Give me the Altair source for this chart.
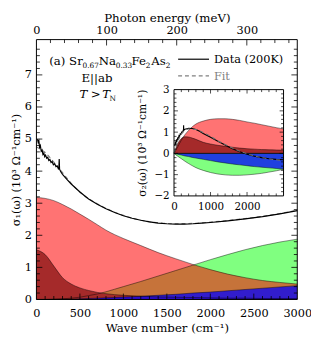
import altair as alt
import pandas as pd

SERIF = "DejaVu Serif"

# ---------------- main panel: sigma_1 (10^3 Ohm^-1 cm^-1) ----------------
w_comp = [0, 100, 200, 300, 400, 500, 600, 700, 800, 900, 1000, 1200, 1400,
          1600, 1800, 2000, 2200, 2400, 2600, 2800, 3000]
s1_drude_narrow = [1.55, 1.40, 1.04, 0.68, 0.48, 0.36, 0.28, 0.22, 0.18, 0.15, 0.13,
                   0.10, 0.08, 0.07, 0.06, 0.05, 0.04, 0.04, 0.03, 0.03, 0.03]
s1_drude_broad = [3.18, 3.15, 3.08, 2.96, 2.82, 2.66, 2.50, 2.33, 2.16, 2.02, 1.90,
                  1.68, 1.46, 1.27, 1.09, 0.93, 0.79, 0.68, 0.59, 0.53, 0.48]
s1_green = [0.0, 0.0, 0.01, 0.02, 0.04, 0.07, 0.12, 0.17, 0.24, 0.32, 0.40,
            0.56, 0.73, 0.90, 1.07, 1.24, 1.40, 1.55, 1.68, 1.79, 1.88]
s1_blue = [0.0, 0.0, 0.0, 0.01, 0.01, 0.02, 0.03, 0.04, 0.05, 0.06, 0.075,
           0.10, 0.13, 0.16, 0.20, 0.23, 0.27, 0.31, 0.35, 0.39, 0.43]

w_data = [12, 20, 28, 36, 45, 55, 65, 75, 85, 95, 105, 118, 130, 142, 155, 168, 180,
          195, 210, 225, 240, 252, 258, 262, 266, 280, 300, 350, 400, 500, 600, 700,
          800, 900, 1000, 1100, 1200, 1300, 1400, 1500, 1600, 1700, 1800, 1900, 2000,
          2200, 2400, 2600, 2800, 3000]
s1_data = [5.00, 4.90, 4.95, 4.75, 4.80, 4.62, 4.66, 4.52, 4.56, 4.45, 4.50, 4.40,
           4.43, 4.33, 4.36, 4.27, 4.30, 4.20, 4.23, 4.14, 4.16, 4.07, 4.10, 4.38,
           4.06, 3.98, 3.90, 3.74, 3.60, 3.35, 3.13, 2.97, 2.83, 2.71, 2.61, 2.53,
           2.47, 2.42, 2.38, 2.36, 2.35, 2.35, 2.36, 2.38, 2.40, 2.45, 2.51, 2.58,
           2.67, 2.77]
w_fit = [0, 100, 200, 300, 400, 500, 600, 700, 800, 900, 1000, 1200, 1400, 1600,
         1800, 2000, 2200, 2400, 2600, 2800, 3000]
s1_fit = [4.75, 4.58, 4.28, 3.95, 3.62, 3.35, 3.14, 2.98, 2.84, 2.72, 2.62, 2.47,
          2.39, 2.36, 2.37, 2.41, 2.46, 2.52, 2.59, 2.68, 2.78]

# ---------------- inset: sigma_2 ----------------
w_inset = [0, 100, 200, 300, 400, 500, 600, 800, 1000, 1200, 1400, 1600, 1800,
           2000, 2200, 2400, 2600, 2800, 3000]
s2_drude_broad = [0.0, 0.30, 0.62, 0.88, 1.08, 1.25, 1.38, 1.52, 1.60, 1.63, 1.63,
                  1.60, 1.55, 1.48, 1.42, 1.35, 1.28, 1.21, 1.15]
s2_drude_narrow = [0.0, 0.45, 0.70, 0.78, 0.77, 0.72, 0.66, 0.52, 0.44, 0.38, 0.33,
                   0.29, 0.25, 0.22, 0.20, 0.18, 0.17, 0.16, 0.15]
s2_green = [0.0, -0.13, -0.25, -0.37, -0.48, -0.58, -0.67, -0.80, -0.90, -0.97,
            -1.01, -1.03, -1.03, -1.01, -0.98, -0.94, -0.88, -0.82, -0.75]
s2_blue = [0.0, -0.04, -0.08, -0.12, -0.15, -0.19, -0.22, -0.28, -0.34, -0.40,
           -0.45, -0.50, -0.54, -0.58, -0.62, -0.65, -0.68, -0.71, -0.74]

w2_data = [20, 35, 50, 65, 80, 100, 115, 135, 150, 170, 190, 210, 230, 250, 258,
           263, 268, 300, 400, 500, 600, 700, 800, 1000, 1200, 1400, 1600, 1800,
           2000, 2200, 2400, 2600, 2800, 3000]
s2_data = [0.35, 0.50, 0.45, 0.62, 0.58, 0.72, 0.68, 0.82, 0.78, 0.92, 0.90, 1.00,
           0.98, 1.08, 1.05, 1.32, 1.08, 1.14, 1.18, 1.17, 1.12, 1.04, 0.94, 0.76,
           0.57, 0.39, 0.22, 0.08, -0.04, -0.13, -0.20, -0.25, -0.28, -0.30]
w2_fit = [0, 100, 200, 300, 400, 600, 800, 1000, 1200, 1400, 1600, 1800, 2000,
          2200, 2400, 2600, 2800, 3000]
s2_fit = [0.0, 0.55, 0.90, 1.08, 1.15, 1.12, 0.98, 0.80, 0.60, 0.42, 0.25, 0.10,
          -0.02, -0.12, -0.20, -0.26, -0.30, -0.33]

# ---------------- tick labels / tick positions ----------------
x_labels = [0, 500, 1000, 1500, 2000, 2500, 3000]
y_labels = [0, 1, 2, 3, 4, 5, 6, 7]
mev_labels = [0, 100, 200, 300]
inset_x_labels = [0, 1000, 2000]
inset_y_labels = [-2, -1, 0, 1, 2, 3]

x_major = [500, 1000, 1500, 2000, 2500]
x_minor = [v for v in range(100, 3000, 100) if v % 500]
y_major = [1, 2, 3, 4, 5, 6, 7]
y_minor = [round(i * 0.2, 1) for i in range(1, 41) if i % 5]
mev_major = [100, 200, 300]
mev_minor = [v for v in range(20, 372, 20) if v % 100]
ix_major = [1000, 2000]
ix_minor = [v for v in range(200, 3000, 200) if v % 1000]
iy_major = [-1, 0, 1, 2]
iy_minor = [round(-2 + i * 0.2, 1) for i in range(1, 25) if i % 5]

W, H = 266, 265
CM_PER_MEV = 8.0655

# ---------------- main panel ----------------
xs = alt.Scale(domain=[0, 3000], nice=False)
ys = alt.Scale(domain=[0, 8.1], nice=False)
xax = alt.Axis(values=x_labels, ticks=False, tickSize=0, domain=False, grid=False,
               labelPadding=8, labelFontSize=11.5, format="d", labelFlush=False,
               labelOverlap=False,
               title="Wave number (cm\u207b\u00b9)", titleFontSize=12, titlePadding=4)
yax = alt.Axis(values=y_labels, ticks=False, tickSize=0, domain=False, grid=False,
               labelPadding=5, labelFontSize=11.5, format="d", labelFlush=False,
               title="\u03c3\u2081(\u03c9) (10\u00b3 \u03a9\u207b\u00b9cm\u207b\u00b9)",
               titleFontSize=11.5, titlePadding=3)

comp = pd.DataFrame({"w": w_comp, "dn": s1_drude_narrow, "db": s1_drude_broad,
                     "g": s1_green, "b": s1_blue})
X = alt.X("w:Q", scale=xs, axis=xax)


def area(col, color, opacity=1.0):
    return alt.Chart(comp).mark_area(color=color, opacity=opacity,
                                     interpolate="monotone").encode(
        x=X, y=alt.Y(f"{col}:Q", scale=ys, axis=yax), y2=alt.datum(0))


def edge(col):
    return alt.Chart(comp).mark_line(color="black", strokeWidth=0.6, opacity=0.75,
                                     interpolate="monotone").encode(
        x=X, y=alt.Y(f"{col}:Q", scale=ys, axis=yax))


fit_df = pd.DataFrame({"w": w_fit, "s": s1_fit})
data_df = pd.DataFrame({"w": w_data, "s": s1_data})

fit_line = alt.Chart(fit_df).mark_line(color="#808080", strokeWidth=1.2,
                                       strokeDash=[4, 3], interpolate="monotone").encode(
    x=X, y=alt.Y("s:Q", scale=ys, axis=yax))
data_line = alt.Chart(data_df).mark_line(color="black", strokeWidth=1.2).encode(
    x=X, y=alt.Y("s:Q", scale=ys, axis=yax))


def xticks(vals, length, bottom=True):
    df = pd.DataFrame({"w": vals})
    if bottom:
        return alt.Chart(df).mark_rule(color="black", strokeWidth=0.8).encode(
            x=X, y=alt.value(H), y2=alt.value(H - length))
    return alt.Chart(df).mark_rule(color="black", strokeWidth=0.8).encode(
        x=X, y=alt.value(0), y2=alt.value(length))


def yticks(vals, length, left=True):
    df = pd.DataFrame({"v": vals})
    x0 = 0 if left else W
    x1 = length if left else W - length
    return alt.Chart(df).mark_rule(color="black", strokeWidth=0.8).encode(
        y=alt.Y("v:Q", scale=ys, axis=yax), x=alt.value(x0), x2=alt.value(x1))


one = pd.DataFrame({"a": [0]})
frame = alt.Chart(one).mark_rect(fillOpacity=0, stroke="black", strokeWidth=1).encode(
    x=alt.value(0), x2=alt.value(W), y=alt.value(0), y2=alt.value(H))


def txt(s, x, y, size=12, color="black", style="normal"):
    return alt.Chart(one).mark_text(text=s, align="left", baseline="alphabetic",
                                    fontSize=size, font=SERIF, color=color,
                                    fontStyle=style).encode(
        x=alt.value(x - 37), y=alt.value(y - 37))


texts = [
    txt("(a) Sr", 50, 63), txt("0.67", 84, 66, 7.5), txt("Na", 100.5, 63),
    txt("0.33", 118, 66, 7.5), txt("Fe", 134, 63), txt("2", 148.5, 66, 7.5),
    txt("As", 154, 63), txt("2", 169, 66, 7.5),
    txt("E||ab", 83, 80),
    txt("T", 81, 96.5, style="italic"), txt(">", 92.5, 96.5),
    txt("T", 104, 96.5, style="italic"), txt("N", 111.5, 99.5, 7.5),
    txt("Data (200K)", 218, 61, 11.5), txt("Fit", 218, 78, 11.5, color="#808080"),
]
leg_data = alt.Chart(one).mark_rule(color="black", strokeWidth=1.2).encode(
    x=alt.value(181.5 - 37), x2=alt.value(213 - 37), y=alt.value(57 - 37))
leg_fit = alt.Chart(one).mark_rule(color="#808080", strokeWidth=1.2,
                                   strokeDash=[4, 3]).encode(
    x=alt.value(181.5 - 37), x2=alt.value(213 - 37), y=alt.value(74 - 37))

main = alt.layer(
    area("g", "#80ff80"),
    area("db", "#ff0000", 0.55),
    area("dn", "#a52a2a"),
    area("b", "#0000ff", 0.75),
    edge("g"), edge("db"), edge("dn"), edge("b"),
    fit_line, data_line,
    xticks(x_major, 6), xticks(x_minor, 3.5),
    yticks(y_major, 6), yticks(y_minor, 3.5),
    yticks(y_major, 6, left=False), yticks(y_minor, 3.5, left=False),
    frame, leg_data, leg_fit, *texts,
)

# ---------------- top axis (photon energy) ----------------
mev_scale = alt.Scale(domain=[0, 3000 / CM_PER_MEV], nice=False)
top_ax = alt.Axis(orient="top", values=mev_labels, ticks=False, tickSize=0,
                  domain=False, grid=False, labelPadding=4, labelFontSize=11.5,
                  format="d", labelFlush=False, title="Photon energy (meV)",
                  titleFontSize=12, titlePadding=0)
top = alt.layer(
    alt.Chart(pd.DataFrame({"m": mev_major})).mark_rule(color="black", strokeWidth=0.8).encode(
        x=alt.X("m:Q", scale=mev_scale, axis=top_ax), y=alt.value(0), y2=alt.value(6)),
    alt.Chart(pd.DataFrame({"m": mev_minor})).mark_rule(color="black", strokeWidth=0.8).encode(
        x=alt.X("m:Q", scale=mev_scale, axis=top_ax), y=alt.value(0), y2=alt.value(3.5)),
)

# ---------------- inset ----------------
IL, IR, IT, IB = 140.3, 252.0, 51.0, 159.4
ixs = alt.Scale(domain=[0, 3000], range=[IL, IR], nice=False)
iys = alt.Scale(domain=[-2, 3], range=[IB, IT], nice=False)
ixax = alt.Axis(orient="bottom", offset=-(H - IB), values=inset_x_labels, ticks=False,
                tickSize=0, domain=False, grid=False, labelPadding=6,
                labelFontSize=10.5, format="d", labelFlush=False, title="")
iyax = alt.Axis(orient="left", offset=-IL, values=inset_y_labels, ticks=False,
                tickSize=0, domain=False, grid=False, labelPadding=5,
                labelFontSize=10.5, format="d", labelFlush=False,
                title="\u03c3\u2082(\u03c9) (10\u00b3 \u03a9\u207b\u00b9cm\u207b\u00b9)",
                titleFontSize=11, titlePadding=7)
IX = alt.X("w:Q", scale=ixs, axis=ixax)

icomp = pd.DataFrame({"w": w_inset, "db": s2_drude_broad, "dn": s2_drude_narrow,
                      "g": s2_green, "b": s2_blue})


def iarea(col, color, opacity=1.0):
    return alt.Chart(icomp).mark_area(color=color, opacity=opacity,
                                      interpolate="monotone").encode(
        x=IX, y=alt.Y(f"{col}:Q", scale=iys, axis=iyax), y2=alt.datum(0))


def iedge(col):
    return alt.Chart(icomp).mark_line(color="black", strokeWidth=0.6, opacity=0.75,
                                      interpolate="monotone").encode(
        x=IX, y=alt.Y(f"{col}:Q", scale=iys, axis=iyax))


fr = pd.DataFrame({"w": [0], "w1": [3000], "y0": [-2], "y1": [3], "z": [0]})
inset_bg = alt.Chart(fr).mark_rect(color="white").encode(
    x=IX, x2="w1:Q", y=alt.Y("y0:Q", scale=iys, axis=iyax), y2="y1:Q")
inset_frame = alt.Chart(fr).mark_rect(fillOpacity=0, stroke="black", strokeWidth=1).encode(
    x=IX, x2="w1:Q", y=alt.Y("y0:Q", scale=iys, axis=iyax), y2="y1:Q")
zero_line = alt.Chart(fr).mark_rule(color="black", strokeWidth=0.9).encode(
    x=IX, x2="w1:Q", y=alt.Y("z:Q", scale=iys, axis=iyax))

i_fit = alt.Chart(pd.DataFrame({"w": w2_fit, "s": s2_fit})).mark_line(
    color="#707070", strokeWidth=1.1, strokeDash=[4, 3], interpolate="monotone").encode(
    x=IX, y=alt.Y("s:Q", scale=iys, axis=iyax))
i_data = alt.Chart(pd.DataFrame({"w": w2_data, "s": s2_data})).mark_line(
    color="black", strokeWidth=1.1).encode(
    x=IX, y=alt.Y("s:Q", scale=iys, axis=iyax))


def ixticks(vals, length):
    df = pd.DataFrame({"w": vals, "yb": [-2] * len(vals), "yt": [3] * len(vals)})
    b = alt.Chart(df).mark_rule(color="black", strokeWidth=0.7, y2Offset=-length).encode(
        x=IX, y=alt.Y("yb:Q", scale=iys, axis=iyax), y2="yb:Q")
    t = alt.Chart(df).mark_rule(color="black", strokeWidth=0.7, y2Offset=length).encode(
        x=IX, y=alt.Y("yt:Q", scale=iys, axis=iyax), y2="yt:Q")
    return [b, t]


def iyticks(vals, length):
    df = pd.DataFrame({"v": vals, "w": [0] * len(vals), "wr": [3000] * len(vals)})
    l = alt.Chart(df).mark_rule(color="black", strokeWidth=0.7, x2Offset=length).encode(
        y=alt.Y("v:Q", scale=iys, axis=iyax), x=IX, x2="w:Q")
    r = alt.Chart(df).mark_rule(color="black", strokeWidth=0.7, x2Offset=-length).encode(
        y=alt.Y("v:Q", scale=iys, axis=iyax), x=alt.X("wr:Q", scale=ixs, axis=ixax),
        x2="wr:Q")
    return [l, r]


inset = alt.layer(
    inset_bg,
    iarea("db", "#ff0000", 0.55),
    iarea("dn", "#a52a2a"),
    iarea("g", "#80ff80"),
    iarea("b", "#0000ff", 0.75),
    iedge("db"), iedge("dn"), iedge("g"), iedge("b"),
    zero_line, i_data, i_fit,
    *ixticks(ix_major, 4), *ixticks(ix_minor, 2.5),
    *iyticks(iy_major, 4), *iyticks(iy_minor, 2.5),
    inset_frame,
)

chart = alt.layer(main, top, inset).resolve_scale(
    x="independent", y="independent"
).properties(
    width=W, height=H,
    padding={"left": 29, "top": 29, "right": 14, "bottom": 32},
    autosize=alt.AutoSizeParams(type="none"),
).configure_view(strokeWidth=0).configure_axis(
    labelFont=SERIF, titleFont=SERIF, labelColor="black", titleColor="black",
    titleFontWeight="normal",
).configure_text(font=SERIF)

chart.save("out.html", embed_options={"renderer": "svg", "actions": False})
